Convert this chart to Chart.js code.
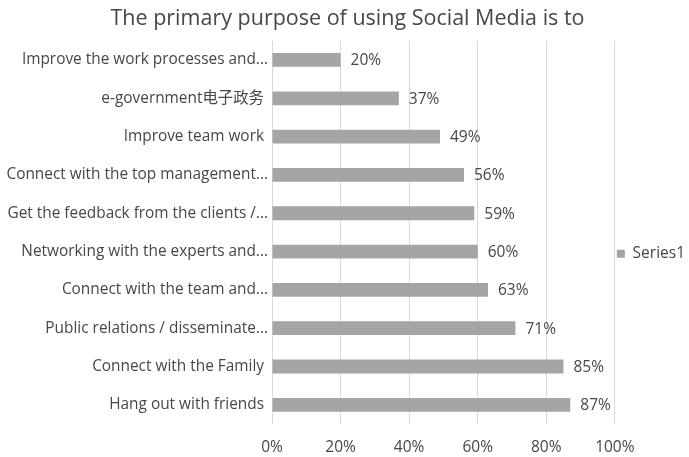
<!DOCTYPE html>
<html>
<head>
<meta charset="utf-8">
<title>Social Media purpose</title>
<script src="https://cdn.jsdelivr.net/npm/chart.js@4/dist/chart.umd.min.js"></script>
<style>
  html, body { margin: 0; padding: 0; background: #ffffff; }
  #wrap { width: 689px; height: 457px; }
</style>
</head>
<body>
<div id="wrap"><canvas id="purposeChart" width="689" height="457"></canvas></div>
<script>
const categories = [
  "Improve the work processes and...",
  "e-government\u7535\u5b50\u653f\u52a1 ",
  "Improve team work ",
  "Connect with the top management...",
  "Get the feedback from the clients /...",
  "Networking with the experts and...",
  "Connect with the team and...",
  "Public relations / disseminate...",
  "Connect with the Family ",
  "Hang out with friends "
];
const series1 = [20, 37, 49, 56, 59, 60, 63, 71, 85, 87];
const xTicks = [0, 20, 40, 60, 80, 100];

const FONT = "'Open Sans', 'Noto Sans CJK SC', sans-serif";
const TEXT = "#474747";

// writes the percentage just past the end of each bar
const valueLabels = {
  id: "valueLabels",
  afterDatasetsDraw(chart) {
    const ctx = chart.ctx;
    ctx.save();
    ctx.font = "15.5px " + FONT;
    ctx.fillStyle = TEXT;
    ctx.textAlign = "left";
    ctx.textBaseline = "middle";
    chart.getDatasetMeta(0).data.forEach((bar, i) => {
      ctx.fillText(series1[i] + "%", bar.x + 10, bar.y + 1);
    });
    ctx.restore();
  }
};

new Chart(document.getElementById("purposeChart"), {
  type: "bar",
  data: {
    labels: categories,
    datasets: [{
      label: "Series1",
      data: series1,
      backgroundColor: "#a5a5a5",
      borderWidth: 0,
      barPercentage: 0.6,
      categoryPercentage: 0.6
    }]
  },
  options: {
    indexAxis: "y",
    responsive: false,
    animation: false,
    devicePixelRatio: 1,
    // a little negative right padding pushes the legend to the edge
    layout: { padding: { top: 0, bottom: 0, left: 0, right: -6 } },
    plugins: {
      title: {
        display: true,
        text: "The primary purpose of using Social Media is to",
        color: TEXT,
        font: { family: FONT, size: 21.5, weight: "normal" },
        padding: { top: 6, bottom: 9 }
      },
      legend: {
        position: "right",
        // empty title pushes the single entry a little below the middle
        title: { display: true, text: "", padding: 18 },
        labels: {
          color: TEXT,
          boxWidth: 8,
          boxHeight: 8,
          padding: 2,
          font: { family: FONT, size: 15.5 }
        }
      },
      tooltip: { enabled: false }
    },
    scales: {
      x: {
        min: 0,
        max: 100,
        afterBuildTicks: (scale) => {
          scale.ticks = xTicks.map(v => ({ value: v }));
        },
        afterFit: (scale) => { scale.height = 33; },
        ticks: {
          color: TEXT,
          font: { family: FONT, size: 15.5 },
          padding: 14,
          callback: (v) => v + "%"
        },
        grid: { color: "#d9d9d9", drawTicks: false },
        border: { display: false }
      },
      y: {
        afterFit: (scale) => { scale.width = 272; },
        ticks: {
          color: TEXT,
          font: { family: FONT, size: 15.4 },
          padding: 4
        },
        grid: { display: false, drawTicks: false },
        border: { display: false }
      }
    }
  },
  plugins: [valueLabels]
});
</script>
</body>
</html>
